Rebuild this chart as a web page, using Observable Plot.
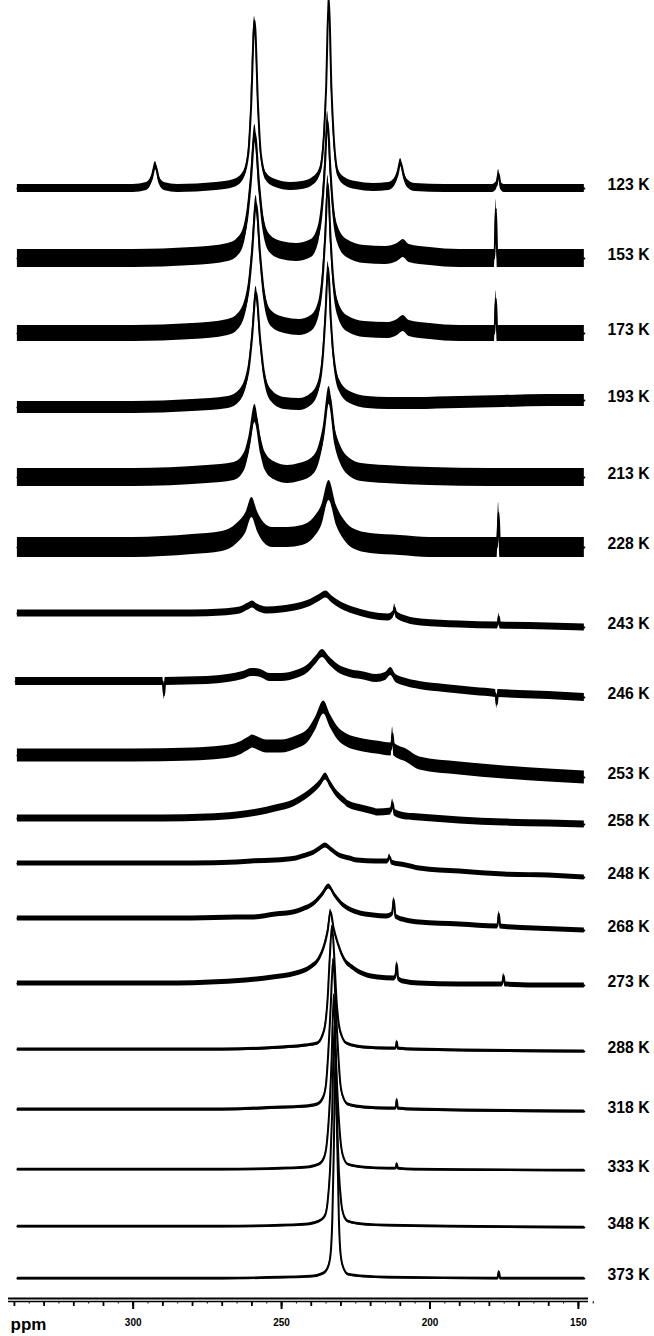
<!DOCTYPE html>
<html>
<head>
<meta charset="utf-8">
<script src="https://cdn.jsdelivr.net/npm/d3@7"></script>
<script src="https://cdn.jsdelivr.net/npm/@observablehq/plot@0.6"></script>
<style>
  html, body { margin: 0; padding: 0; background: white; }
</style>
</head>
<body>
<div id="chart"></div>
<script>
// Temperature labels (top to bottom)
const temps = ["123 K","153 K","173 K","193 K","213 K","228 K","243 K","246 K","253 K","258 K","248 K","268 K","273 K","288 K","318 K","333 K","348 K","373 K"];
// Stacking offset of each trace (intensity units)
const offsets = [1113,1043,968,894,824,754,688,620,546,483,438,383,318,252,192,132,75,23];
// Noise half-amplitude of each trace (intensity units)
const noise = [4,9,8,6,9,10,3.5,4,6.5,3.5,2.5,2.5,2.5,1.5,1.5,1.2,1.2,1.2];

// Spectra: [ppm, intensity] pairs
const s123 = [[339,0],[300,0],[295.5,2],[293.8,9],[292.5,23],[291.3,9],[289.5,2],[285,0],[272,2],[266,5],[263,12],[261.2,35],[260.3,80],[259.1,168],[257.9,80],[257,35],[255.2,12],[252,5],[247,2],[243,3],[239.5,7],[237.2,16],[235.7,55],[235,100],[234.1,192],[233.2,100],[232.5,55],[231,16],[228.7,7],[225,3],[219,1],[214,2],[212,6],[211,13],[209.9,26],[208.8,13],[207.6,5],[205,1],[195,0],[179,0],[177.6,3],[176.9,15],[176.2,3],[175,0],[160,0],[148,0]];
const s153 = [[339,0],[300,0],[280,2],[268,6],[264,14],[261.6,40],[260.4,75],[259,125],[257.6,75],[256.4,40],[254,15],[250,8],[245,6],[240,10],[237.5,25],[236.1,60],[235.4,92],[234.5,138],[233.6,92],[232.9,60],[231.2,25],[228,10],[222,4],[215,3],[211,6],[209,10],[207,5],[200,2],[190,0],[178.3,0],[177.8,50],[177.3,0],[160,0],[148,0]];
const s173 = [[339,0],[300,0],[280,2],[268,6],[264,14],[261.2,42],[260,78],[258.6,130],[257.2,78],[256,42],[253.5,15],[249,8],[244,6],[240,10],[237.4,25],[236,62],[235.3,96],[234.4,150],[233.5,96],[232.8,62],[231,25],[228,10],[222,4],[214,3],[211,6],[209,10],[207,5],[200,2],[190,0],[178.3,0],[177.8,35],[177.3,0],[160,0],[148,0]];
const s193 = [[339,0],[300,0],[280,2],[268,5],[264,12],[261.2,36],[260,68],[258.6,115],[257.2,68],[256,36],[253.5,12],[249,4],[244,3],[240,8],[237.4,22],[236,55],[235.3,88],[234.3,140],[233.4,88],[232.6,55],[230.5,22],[227,10],[221,5],[214,4],[205,4],[190,5],[175,6],[160,7],[148,7]];
const s213 = [[339,0],[300,0],[275,3],[266,6],[262.5,16],[261,32],[259,64],[257,32],[255.5,16],[252,6],[248,3],[244,5],[240,10],[237.5,22],[236,41],[234,82],[232,41],[230,22],[227,10],[223,5],[215,3],[200,1],[180,0],[148,0]];
const s228 = [[339,0],[300,0],[280,3],[270,6],[265,14],[262,25],[260,40],[258,25],[256,15],[253,10],[248,10],[243,12],[239,20],[236.5,32],[234,57],[231.5,32],[229,18],[226,9],[220,4],[210,2],[200,0],[177.4,0],[176.9,35],[176.4,0],[160,0],[148,0]];
const s243 = [[339,0],[280,0],[270,1],[264,3],[261.2,7],[259.8,9],[258.2,6],[255,3],[250,4],[244,7],[240,11],[237,16],[235,19],[233,14],[230,8],[226,3],[220,-2],[214,-4],[212.4,-1],[211.9,6],[211.4,-1],[208,-6],[203,-9],[190,-11],[177.2,-12],[176.8,-3],[176.4,-12],[160,-13],[148,-14]];
const s246 = [[339.6,0],[300,0],[290,0],[289.6,-14],[289.2,0],[275,1],[268,3],[263,6],[260,9],[257,8],[254,4],[250,4],[245,7],[241,13],[238.5,21],[236.2,28],[234,21],[231,13],[227,8],[223.2,6],[218,3],[215,5],[213.2,10],[211.5,3],[208,-1],[203.5,-4],[195,-7],[185,-10],[177.9,-12],[177.5,-23],[177.1,-12],[170,-13],[160,-14],[148,-16]];
const s253 = [[339,0],[300,0],[280,1],[270,3],[264,7],[261,12],[259.8,14],[258,12],[255,9],[250,9],[245,13],[241,20],[238.5,32],[235.8,48],[233.5,34],[231,22],[228,15],[224,11],[218,8],[213.1,6],[212.6,22],[212.1,6],[208,0],[203.5,-8],[190,-13],[175,-17],[160,-20],[148,-22]];
const s258 = [[339,0],[290,0],[275,1],[265,3],[258,6],[252,10],[246,15],[242,22],[239,29],[237,35],[235.2,42],[233.5,34],[231.5,25],[229,18],[227.4,14],[223,10],[219,7],[217.6,6],[213.2,7],[212.6,16],[212,6],[208,2],[203.5,1],[190,-2],[175,-4],[160,-5],[148,-6]];
const s248 = [[339,0],[280,0],[265,1],[260,2],[252,3],[245,5],[242.9,7],[239,11],[237,15],[235.2,18],[233.3,14],[230.5,8],[227,5],[224.5,3],[218,2],[214.3,2],[213.6,7],[212.9,1],[208,-2],[203.5,-5],[190,-8],[175,-11],[160,-12],[148,-14]];
const s268 = [[339,0],[280,0],[265,1],[259.8,1],[252,4],[246,6],[242.9,9],[239,15],[236.5,23],[234.1,32],[232,23],[229.5,14],[227,9],[224.5,6],[219,3],[214.6,2],[212.8,4],[212.2,19],[211.6,2],[208,-2],[203.5,-4],[190,-6],[177.3,-8],[176.8,5],[176.3,-8],[165,-10],[148,-12]];
const s273 = [[339,0],[285,0],[274,1],[262,3],[252.9,6],[245,10],[240.2,16],[237.5,24],[235.8,36],[234.5,52],[233.5,72],[232.5,56],[231,40],[229,25],[226.1,16],[222,9],[217.5,6],[212,5],[211.6,8],[211.2,20],[210.7,5],[209,2],[203.5,0],[190,-1],[175.7,-1],[175.2,8],[174.7,-1],[160,-2],[148,-2]];
const s288 = [[339,0],[270,0],[250,2],[242,4],[238,6],[236.5,12],[235.3,25],[234.5,50],[233.8,90],[233,123],[232.2,90],[231.5,50],[230.7,25],[229.5,12],[228,6],[222,2],[214,1],[211.6,1],[211.2,8],[210.8,1],[205,0],[148,-2]];
const s318 = [[339,0],[270,0],[250,2],[242,3],[238,5],[236,12],[235,26],[234.3,55],[233.5,100],[232.6,150],[231.7,100],[230.9,55],[230.2,26],[229.2,12],[227.5,5],[222,2],[214,1],[211.6,1],[211.2,10],[210.8,1],[205,0],[148,-2]];
const s333 = [[339,0],[270,0],[250,1],[242,2],[237.5,5],[235.8,11],[234.8,25],[234,55],[233.2,105],[232.4,175],[231.6,105],[230.8,55],[230,25],[229,11],[227.5,5],[222,2],[214,1],[211.6,1],[211.2,6],[210.8,1],[205,0],[148,-1]];
const s348 = [[339,0],[270,0],[250,1],[242,2],[237.5,5],[235.5,10],[234.5,24],[233.7,55],[233,110],[232.2,200],[231.4,110],[230.7,55],[229.9,24],[228.9,10],[227.5,5],[222,2],[214,1],[148,-1]];
const s373 = [[339,0],[270,0],[250,1],[240,2],[236,5],[234.4,11],[233.5,24],[232.9,60],[232.4,130],[231.8,230],[231.2,130],[230.7,60],[230.1,24],[229.2,11],[227.5,4],[222,2],[214,1],[177.3,0],[176.8,7],[176.3,0],[148,0]];

const spectra = [s123,s153,s173,s193,s213,s228,s243,s246,s253,s258,s248,s268,s273,s288,s318,s333,s348,s373];

// Axis ticks
const majorTicks = [300, 250, 200, 150];
const ticks10 = d3.range(150, 341, 10);
const ticks5 = d3.range(145, 341, 5);

// Build table
const rows = [];
spectra.forEach((s, i) => {
  s.forEach(([ppm, v]) => {
    const y = offsets[i] + v;
    rows.push({t: temps[i], ppm, v: y, lo: y - noise[i], hi: y + noise[i]});
  });
});
const labelRows = spectra.map((s, i) => ({t: temps[i], v: offsets[i] + s[s.length - 1][1]}));

const chart = Plot.plot({
  width: 654,
  height: 1336,
  marginLeft: 8,
  marginRight: 66,
  marginTop: 0,
  marginBottom: 35,
  x: {domain: [342, 146.6]},
  y: {domain: [0, 1301], axis: null},
  style: {background: "white", color: "black", fontFamily: "'Liberation Sans', Arial, sans-serif"},
  marks: [
    Plot.areaY(rows, {x: "ppm", y1: "lo", y2: "hi", z: "t", fill: "black", curve: "monotone-x"}),
    Plot.line(rows, {x: "ppm", y: "v", z: "t", stroke: "black", strokeWidth: 2, curve: "monotone-x"}),
    Plot.ruleY([0], {stroke: "black", strokeWidth: 1.5}),
    Plot.ruleY([0], {stroke: "black", strokeWidth: 2, dy: -3}),
    Plot.axisX({ticks: ticks5, tickSize: 2.5, tickFormat: () => "", strokeWidth: 1, label: null}),
    Plot.axisX({ticks: ticks10, tickSize: 5, tickFormat: () => "", strokeWidth: 1.8, label: null}),
    Plot.axisX({ticks: majorTicks, tickSize: 8, tickPadding: 9, strokeWidth: 2, fontSize: 10, fontWeight: "bold", label: null, tickFormat: d => String(d)}),
    Plot.text(labelRows, {y: "v", text: "t", frameAnchor: "right", dx: 19, dy: -4, textAnchor: "start", fontSize: 16, fontWeight: "bold"}),
    Plot.text(["ppm"], {text: d => d, frameAnchor: "bottom-left", dx: 2, dy: 28, lineAnchor: "bottom", textAnchor: "start", fontSize: 17, fontWeight: "bold"})
  ]
});
// condense the temperature labels to the reference width
d3.select(chart).selectAll("text")
  .filter(function () { return / K$/.test(this.textContent); })
  .attr("textLength", 42)
  .attr("lengthAdjust", "spacingAndGlyphs");
document.getElementById("chart").appendChild(chart);
</script>
</body>
</html>
